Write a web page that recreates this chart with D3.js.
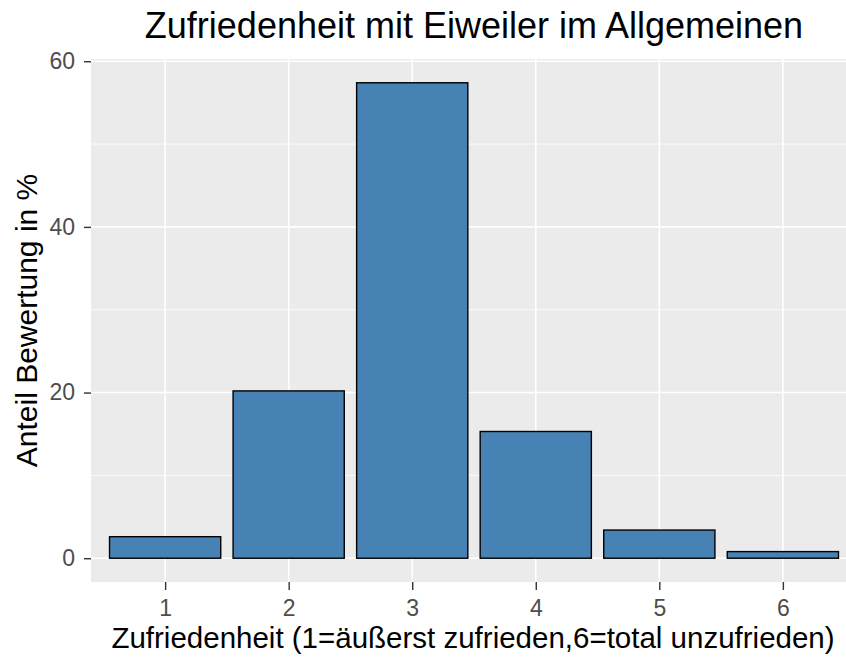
<!DOCTYPE html>
<html>
<head>
<meta charset="utf-8">
<script src="https://cdn.jsdelivr.net/npm/d3@7"></script>
<style>
  body { margin: 0; background: #fff; }
  svg { font-family: "Liberation Sans", Arial, sans-serif; }
</style>
</head>
<body>
<svg width="846" height="658"></svg>
<script>
var categories = ["1", "2", "3", "4", "5", "6"];
var values = [2.6, 20.2, 57.4, 15.3, 3.4, 0.8];
var yTicks = [0, 20, 40, 60];
var yMinor = [10, 30, 50];

var svg = d3.select("svg");
var width = +svg.attr("width");
var height = +svg.attr("height");

// panel runs a little past the right edge, like the cropped original
var margin = { top: 59, right: -11, bottom: 76, left: 91 };
var innerWidth = width - margin.left - margin.right;
var innerHeight = height - margin.top - margin.bottom;

var data = categories.map((c, i) => ({ cat: c, value: values[i] }));

var maxV = d3.max(values);
var yScale = d3.scaleLinear()
  .domain([-maxV * 0.05, maxV * 1.05])
  .range([innerHeight, 0]);

// discrete scale with 0.6 unit padding each side
var step = innerWidth / (categories.length - 1 + 1.2);
var xScale = d3.scalePoint()
  .domain(categories)
  .range([step * 0.6, innerWidth - step * 0.6]);

var g = svg.append("g")
  .attr("transform", `translate(${margin.left}, ${margin.top})`);

g.append("rect")
  .attr("width", innerWidth)
  .attr("height", innerHeight)
  .attr("fill", "#EBEBEB");

g.selectAll(".minor")
  .data(yMinor)
  .enter()
  .append("line")
  .attr("x1", 0).attr("x2", innerWidth)
  .attr("y1", d => yScale(d)).attr("y2", d => yScale(d))
  .attr("stroke", "#fff").attr("stroke-width", 0.8);

g.selectAll(".hmajor")
  .data(yTicks)
  .enter()
  .append("line")
  .attr("x1", 0).attr("x2", innerWidth)
  .attr("y1", d => yScale(d)).attr("y2", d => yScale(d))
  .attr("stroke", "#fff").attr("stroke-width", 1.6);

g.selectAll(".vmajor")
  .data(categories)
  .enter()
  .append("line")
  .attr("y1", 0).attr("y2", innerHeight)
  .attr("x1", d => xScale(d)).attr("x2", d => xScale(d))
  .attr("stroke", "#fff").attr("stroke-width", 1.6);

var barW = step * 0.9;
g.selectAll(".bar")
  .data(data)
  .enter()
  .append("rect")
  .attr("x", d => xScale(d.cat) - barW / 2)
  .attr("y", d => yScale(d.value))
  .attr("width", barW)
  .attr("height", d => yScale(0) - yScale(d.value))
  .attr("fill", "#4682B4")
  .attr("stroke", "#000")
  .attr("stroke-width", 1.4);

var yAxis = g.append("g")
  .call(d3.axisLeft(yScale).tickValues(yTicks).tickSize(7).tickPadding(9));
var xAxis = g.append("g")
  .attr("transform", `translate(0, ${innerHeight})`)
  .call(d3.axisBottom(xScale).tickSize(8).tickPadding(10));

[yAxis, xAxis].forEach(a => {
  a.select(".domain").remove();
  a.selectAll(".tick line").attr("stroke", "#333").attr("stroke-width", 1.4);
  a.selectAll(".tick text")
    .attr("fill", "#4D4D4D")
    .style("font-size", "23px")
    .style("font-family", "Liberation Sans, Arial, sans-serif");
});

svg.append("text")
  .attr("x", margin.left + innerWidth / 2)
  .attr("y", 38)
  .attr("text-anchor", "middle")
  .style("font-size", "36px")
  .text("Zufriedenheit mit Eiweiler im Allgemeinen");

svg.append("text")
  .attr("x", 473)
  .attr("y", 648)
  .attr("text-anchor", "middle")
  .style("font-size", "29.5px")
  .text("Zufriedenheit (1=äußerst zufrieden,6=total unzufrieden)");

svg.append("text")
  .attr("transform", `translate(37, ${margin.top + innerHeight / 2}) rotate(-90)`)
  .attr("text-anchor", "middle")
  .style("font-size", "30px")
  .text("Anteil Bewertung in %");
</script>
</body>
</html>
